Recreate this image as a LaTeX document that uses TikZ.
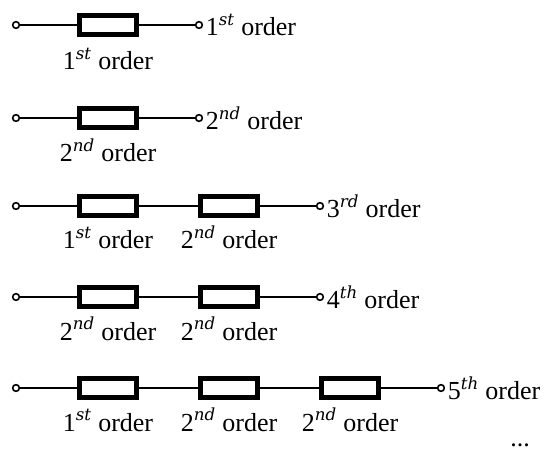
\documentclass[tikz,border=0pt]{standalone}
\usepackage{fontspec}
\setmainfont{Liberation Serif}
\newfontfamily\supfont{DejaVu Serif}
\usetikzlibrary{positioning}
\newcommand{\ordem}[2]{#1\textsuperscript{\fontsize{12.5}{13}\supfont\itshape #2}\ order}
\begin{document}
\begin{tikzpicture}[x=0.75pt, y=0.75pt,
    every node/.style={font=\fontsize{19.5}{22}\selectfont},
    fio/.style={line width=1.15pt},
    bloco/.style={draw, line width=3.3pt, fill=white, minimum width=43pt, minimum height=14pt, inner sep=0pt},
    term/.style={circle, draw, line width=1.2pt, fill=white, minimum size=5pt, inner sep=0pt},
    rotulo/.style={anchor=base}]
    \useasboundingbox (0,0) rectangle (551,451);

    % Primeira ordem
    \node[term] (a0) at (16,426) {};
    \node[bloco] (a1) at (108,426) {};
    \node[term] (a2) at (199,426) {};
    \draw[fio] (a0) -- (a1) -- (a2);
    \node[rotulo] (la1) at (108,381) {\ordem{1}{st}};
    \node[right=-1.5pt of a2] (ra) {\ordem{1}{st}};

    % Segunda ordem
    \node[term] (b0) at (16,333) {};
    \node[bloco] (b1) at (108,333) {};
    \node[term] (b2) at (199,333) {};
    \draw[fio] (b0) -- (b1) -- (b2);
    \node[rotulo] (lb1) at (108,289) {\ordem{2}{nd}};
    \node[right=-1.5pt of b2] (rb) {\ordem{2}{nd}};

    % Terceira ordem
    \node[term] (c0) at (16,245) {};
    \node[bloco] (c1) at (108,245) {};
    \node[bloco] (c2) at (229,245) {};
    \node[term] (c3) at (320,245) {};
    \draw[fio] (c0) -- (c1) -- (c2) -- (c3);
    \node[rotulo] (lc1) at (108,202) {\ordem{1}{st}};
    \node[rotulo] (lc2) at (229,202) {\ordem{2}{nd}};
    \node[right=-1.5pt of c3] (rc) {\ordem{3}{rd}};

    % Quarta ordem
    \node[term] (d0) at (16,154) {};
    \node[bloco] (d1) at (108,154) {};
    \node[bloco] (d2) at (229,154) {};
    \node[term] (d3) at (320,154) {};
    \draw[fio] (d0) -- (d1) -- (d2) -- (d3);
    \node[rotulo] (ld1) at (108,111) {\ordem{2}{nd}};
    \node[rotulo] (ld2) at (229,111) {\ordem{2}{nd}};
    \node[right=-1.5pt of d3] (rd) {\ordem{4}{th}};

    % Quinta ordem
    \node[term] (e0) at (16,63) {};
    \node[bloco] (e1) at (108,63) {};
    \node[bloco] (e2) at (229,63) {};
    \node[bloco] (e3) at (350,63) {};
    \node[term] (e4) at (441,63) {};
    \draw[fio] (e0) -- (e1) -- (e2) -- (e3) -- (e4);
    \node[rotulo] (le1) at (108,20) {\ordem{1}{st}};
    \node[rotulo] (le2) at (229,20) {\ordem{2}{nd}};
    \node[rotulo] (le3) at (350,20) {\ordem{2}{nd}};
    \node[right=-1.5pt of e4] (re) {\ordem{5}{th}};

    % Continua
    \node[rotulo, inner sep=0pt] (mais) at (520,5) {...};
\end{tikzpicture}
\end{document}
